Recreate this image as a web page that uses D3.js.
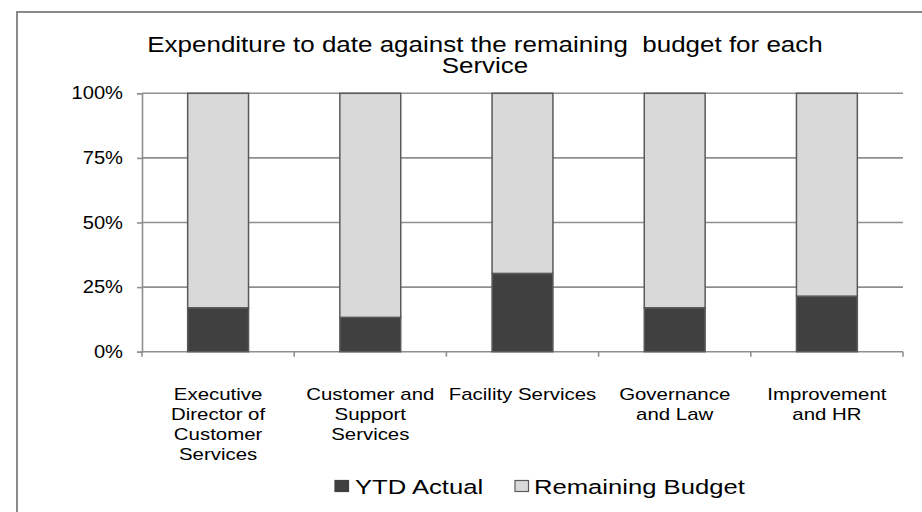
<!DOCTYPE html>
<html>
<head>
<meta charset="utf-8">
<script src="https://cdn.jsdelivr.net/npm/d3@7"></script>
<style>
  html, body { margin: 0; padding: 0; background: #fff; }
  svg { display: block; font-family: "Liberation Sans", Arial, sans-serif; }
</style>
</head>
<body>
<svg id="chart" width="922" height="512"></svg>
<script>
// Services and their share of budget spent to date
const categories = [
  ["Executive", "Director of", "Customer", "Services"],
  ["Customer and", "Support", "Services"],
  ["Facility Services"],
  ["Governance", "and Law"],
  ["Improvement", "and HR"]
];
const ytdActual = [0.17, 0.133, 0.303, 0.17, 0.215];
const remainingBudget = ytdActual.map(v => 1 - v);
const seriesNames = ["YTD Actual", "Remaining Budget"];
const yTicks = [0, 0.25, 0.5, 0.75, 1];
const titleLines = ["Expenditure to date against the remaining  budget for each", "Service"];

const colors = { "YTD Actual": "#404040", "Remaining Budget": "#d9d9d9" };
const gridColor = "#8f8f8f";
const barStroke = "#5a5a5a";

const svg = d3.select("#chart");

// widen glyphs horizontally by factor k
function stretch(sel, k) {
  sel.each(function () {
    const len = this.getComputedTextLength();
    d3.select(this).attr("textLength", len * k).attr("lengthAdjust", "spacingAndGlyphs");
  });
}

// chart frame
svg.append("rect")
  .attr("x", 17).attr("y", 12)
  .attr("width", 940).attr("height", 540)
  .attr("fill", "none").attr("stroke", "#8a8a8a").attr("stroke-width", 2);

const plot = { left: 142, right: 903, top: 93.3, bottom: 351.7 };

const x = d3.scaleBand()
  .domain(d3.range(categories.length))
  .range([plot.left, plot.right])
  .paddingInner(0.6)
  .paddingOuter(0.3);

const y = d3.scaleLinear().domain([0, 1]).range([plot.bottom, plot.top]);

// horizontal gridlines
svg.append("g")
  .selectAll("line")
  .data(yTicks.filter(t => t > 0))
  .join("line")
  .attr("x1", plot.left).attr("x2", plot.right)
  .attr("y1", d => y(d)).attr("y2", d => y(d))
  .attr("stroke", gridColor).attr("stroke-width", 1.6);

// y axis
const yAxis = svg.append("g")
  .attr("transform", `translate(${plot.left},0)`)
  .call(d3.axisLeft(y).tickValues(yTicks).tickFormat(d3.format(".0%")).tickSize(5).tickPadding(14));
yAxis.select(".domain").attr("stroke", gridColor).attr("stroke-width", 1.6);
yAxis.selectAll(".tick line").attr("stroke", gridColor).attr("stroke-width", 1.6);
yAxis.selectAll(".tick text")
  .attr("font-size", 17.5).attr("fill", "#000")
  .attr("font-family", "Liberation Sans, Arial, sans-serif")
  .call(stretch, 1.15);

// x axis line with ticks at band boundaries
const xEdges = d3.range(categories.length + 1).map(i => plot.left + i * x.step());
svg.append("line")
  .attr("x1", plot.left).attr("x2", plot.right)
  .attr("y1", plot.bottom).attr("y2", plot.bottom)
  .attr("stroke", gridColor).attr("stroke-width", 1.6);
svg.append("g")
  .selectAll("line")
  .data(xEdges)
  .join("line")
  .attr("x1", d => d).attr("x2", d => d)
  .attr("y1", plot.bottom).attr("y2", plot.bottom + 5)
  .attr("stroke", gridColor).attr("stroke-width", 1.6);

// stacked bars
const rows = categories.map((c, i) => ({ i, "YTD Actual": ytdActual[i], "Remaining Budget": remainingBudget[i] }));
const stacked = d3.stack().keys(seriesNames)(rows);

svg.append("g")
  .selectAll("g")
  .data(stacked)
  .join("g")
  .attr("fill", d => colors[d.key])
  .selectAll("rect")
  .data(d => d)
  .join("rect")
  .attr("x", d => x(d.data.i))
  .attr("width", x.bandwidth())
  .attr("y", d => y(d[1]))
  .attr("height", d => y(d[0]) - y(d[1]))
  .attr("stroke", barStroke).attr("stroke-width", 1.5);

// category labels
const catG = svg.append("g");
categories.forEach((lines, i) => {
  const cx = x(i) + x.bandwidth() / 2;
  lines.forEach((line, j) => {
    catG.append("text")
      .attr("x", cx).attr("y", 400 + j * 20)
      .attr("text-anchor", "middle")
      .attr("font-size", 17).attr("fill", "#000")
      .text(line);
  });
});
catG.selectAll("text").call(stretch, 1.2);

// title
svg.append("g")
  .selectAll("text")
  .data(titleLines)
  .join("text")
  .attr("x", 485).attr("y", (d, j) => 52 + j * 20.5)
  .attr("text-anchor", "middle")
  .attr("font-size", 22).attr("fill", "#000")
  .style("white-space", "pre")
  .text(d => d)
  .call(stretch, 1.18);

// legend
const legend = svg.append("g");
const legendItems = [
  { key: "YTD Actual", sx: 335, tx: 355 },
  { key: "Remaining Budget", sx: 515, tx: 534 }
];
legendItems.forEach(it => {
  legend.append("rect")
    .attr("x", it.sx).attr("y", 480.5)
    .attr("width", 13.5).attr("height", 11)
    .attr("fill", colors[it.key])
    .attr("stroke", it.key === "YTD Actual" ? colors[it.key] : barStroke)
    .attr("stroke-width", 1.2);
  legend.append("text")
    .attr("x", it.tx).attr("y", 494)
    .attr("font-size", 20.5).attr("fill", "#000")
    .text(it.key)
    .call(stretch, 1.25);
});
</script>
</body>
</html>
